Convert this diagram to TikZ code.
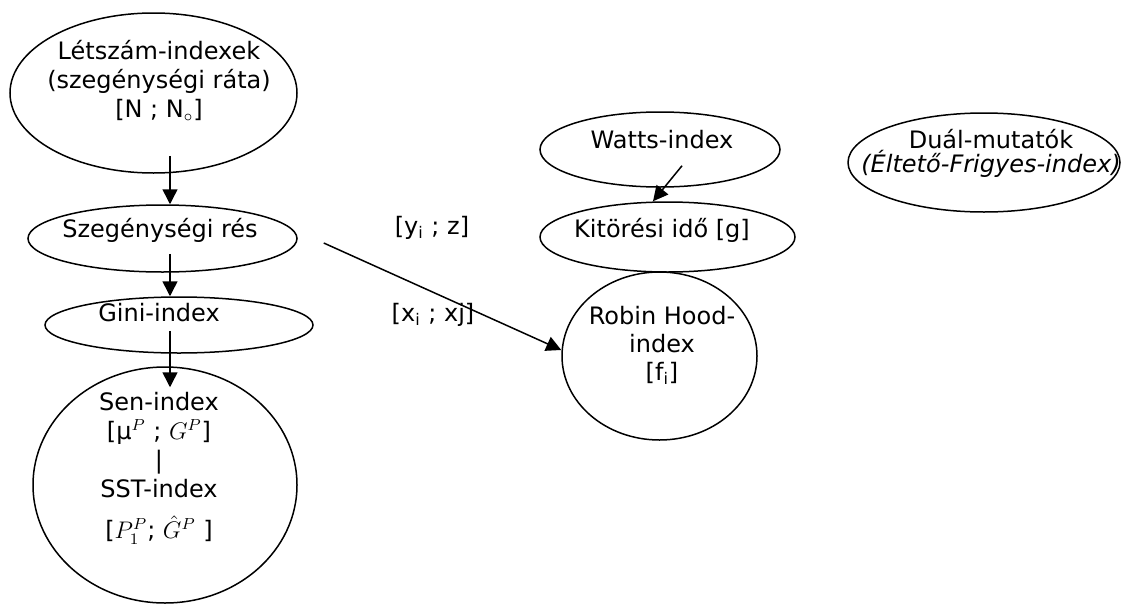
\documentclass[tikz,border=0pt]{standalone}
\usepackage{fontspec}
\setmainfont{DejaVu Sans}
\usepackage{tikz}
\usetikzlibrary{arrows.meta,shapes.geometric,positioning}
\tikzset{>={Triangle[length=7.5pt,width=7.5pt]}}

\begin{document}
\begin{tikzpicture}
	[x=0.5pt, y=-0.5pt, inner sep=0pt, line width=0.75pt,
	measure/.style={draw, ellipse},
	term/.style={font=\fontsize{12}{14.5}\selectfont, align=center},
	param/.style={font=\fontsize{12}{14.5}\selectfont}]
	
	\useasboundingbox (0,0) rectangle (1124,605);
	
	% outlines
	\node[measure, minimum width=143.5pt, minimum height=80pt] (letszam)  at (153.5,93)  {};
	\node[measure, minimum width=134.5pt, minimum height=33.5pt] (szeg)   at (162.5,238.5) {};
	\node[measure, minimum width=134pt,   minimum height=28pt] (gini)     at (179,325)   {};
	\node[measure, minimum width=132pt,   minimum height=118pt] (sen)     at (165,485)   {};
	\node[measure, minimum width=120pt,   minimum height=37.5pt] (watts)  at (660,149.5) {};
	\node[measure, minimum width=127.5pt, minimum height=35pt] (kitoresi) at (667.5,237) {};
	\node[measure, minimum width=97.5pt,  minimum height=84pt] (robin)    at (659.5,356) {};
	\node[measure, minimum width=136pt,   minimum height=49.5pt] (dual)   at (984,162.5) {};
	
	% texts
	\node[term] (letszam_txt)  at (159,81)  {Létszám-indexek\\(szegénységi ráta)\\{}[N ; N$_{\circ}$]};
	\node[term] (szeg_txt)     at (160,230) {Szegénységi rés};
	\node[term] (gini_txt)     at (159,313) {Gini-index};
	\node[term] (sen_txt)      at (159,468) {Sen-index\\{}[μ$^{P}$ ; $G^{P}$]\\|\\SST-index\\[6pt]{}[$P_1^{P}$; $\hat{G}^{P}$ ]};
	\node[term] (watts_txt)    at (662,140) {Watts-index};
	\node[term] (kitoresi_txt) at (662,230) {Kitörési idő [g]};
	\node[term, font=\fontsize{12}{14}\selectfont] (robin_txt) at (662,345) {Robin Hood-\\index\\{}[f\textsubscript{i}]};
	\node[term, font=\fontsize{12}{12}\selectfont] (dual_txt)  at (991,153) {Duál-mutatók\\\textit{(Éltető-Frigyes-index)}};
	\node[param] (y_param)     at (432,228) {[y\textsubscript{i} ; z]};
	\node[param] (x_param)     at (433,315) {[x\textsubscript{i} ; xj]};
	
	% arrows
	\draw [->] ([xshift=8.25pt, yshift=9pt]letszam.south)   to ([xshift=3.75pt]szeg.north);
	\draw [->] ([xshift=3.75pt, yshift=9.5pt]szeg.south)    to ([xshift=-4.5pt]gini.north);
	\draw [->] ([xshift=-4.5pt, yshift=11.5pt]gini.south)   to ([xshift=2.5pt, yshift=-10.5pt]sen.north);
	\draw [->] ([xshift=11pt, yshift=11pt]watts.south)      to ([xshift=-7.25pt]kitoresi.north);
	\draw [->] ([xshift=13pt, yshift=-2.25pt]szeg.east)     to ([yshift=3pt]robin.west);
\end{tikzpicture}
\end{document}
